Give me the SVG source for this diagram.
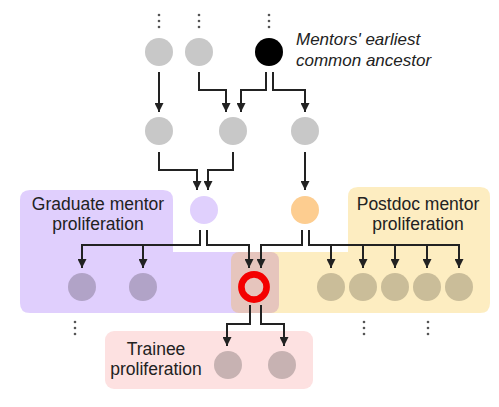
<svg xmlns="http://www.w3.org/2000/svg" width="499" height="407" viewBox="0 0 499 407">
<style>
.t{font-family:"Liberation Sans",Arial,sans-serif;font-size:17.5px;fill:#222;text-anchor:middle}
.ti{font-family:"Liberation Sans",Arial,sans-serif;font-size:17px;font-style:italic;fill:#222}
.c{stroke:#222;stroke-width:2;fill:none}
.g{fill:#c8c8c8}
.pp{fill:#b1a3c7}
.yy{fill:#cabd99}
.tr{fill:#c7b2b2}
.d{fill:#555}
</style>
<defs>
<marker id="ah" viewBox="0 0 10 10" refX="10" refY="5" markerWidth="9" markerHeight="9" markerUnits="userSpaceOnUse" orient="auto">
<path d="M0,0 L10,5 L0,10 Z" fill="#222"/>
</marker>
</defs>
<g id="regions">
<path id="graduate-region" d="M30 190 H163 Q173 190 173 200 V252 H240 V313 H30 Q20 313 20 303 V200 Q20 190 30 190 Z" fill="#e0cffd"/>
<path id="postdoc-region" d="M358 187 H480 Q490 187 490 197 V303 Q490 313 480 313 H270 V252 H348 V197 Q348 187 358 187 Z" fill="#fdedc1"/>
<rect id="overlap-region" x="231" y="252" width="48" height="61" rx="8" fill="#e6c5bd"/>
<rect id="trainee-region" x="105" y="331" width="208" height="58" rx="9" fill="#fde1e1"/>
</g>
<g id="dots">
<circle class="d" cx="159" cy="15" r="1.3"/><circle class="d" cx="159" cy="21" r="1.3"/><circle class="d" cx="159" cy="27" r="1.3"/>
<circle class="d" cx="199" cy="15" r="1.3"/><circle class="d" cx="199" cy="21" r="1.3"/><circle class="d" cx="199" cy="27" r="1.3"/>
<circle class="d" cx="269" cy="15" r="1.3"/><circle class="d" cx="269" cy="21" r="1.3"/><circle class="d" cx="269" cy="27" r="1.3"/>
<circle class="d" cx="75" cy="322" r="1.3"/><circle class="d" cx="75" cy="328" r="1.3"/><circle class="d" cx="75" cy="334" r="1.3"/>
<circle class="d" cx="364" cy="322" r="1.3"/><circle class="d" cx="364" cy="328" r="1.3"/><circle class="d" cx="364" cy="334" r="1.3"/>
<circle class="d" cx="428" cy="322" r="1.3"/><circle class="d" cx="428" cy="328" r="1.3"/><circle class="d" cx="428" cy="334" r="1.3"/>
</g>
<g id="connectors">
<path class="c" marker-end="url(#ah)" d="M159 72 V112"/>
<path class="c" marker-end="url(#ah)" d="M199 72 V90 H226 V112"/>
<path class="c" marker-end="url(#ah)" d="M266 72 V90 H241 V112"/>
<path class="c" marker-end="url(#ah)" d="M273 72 V90 H305 V112"/>
<path class="c" marker-end="url(#ah)" d="M159 152 V170 H197 V190"/>
<path class="c" marker-end="url(#ah)" d="M233 152 V170 H208 V190"/>
<path class="c" marker-end="url(#ah)" d="M305 152 V190"/>
<path class="c" marker-end="url(#ah)" d="M200 230 V245 H82 V268"/>
<path class="c" marker-end="url(#ah)" d="M143 245 V268"/>
<path class="c" marker-end="url(#ah)" d="M207 230 V245 H249 V268"/>
<path class="c" marker-end="url(#ah)" d="M302 230 V245 H261 V268"/>
<path class="c" marker-end="url(#ah)" d="M309 230 V245 H459 V268"/>
<path class="c" marker-end="url(#ah)" d="M331 245 V268"/>
<path class="c" marker-end="url(#ah)" d="M363 245 V268"/>
<path class="c" marker-end="url(#ah)" d="M395 245 V268"/>
<path class="c" marker-end="url(#ah)" d="M427 245 V268"/>
<path class="c" marker-end="url(#ah)" d="M250 305 V324 H227 V346"/>
<path class="c" marker-end="url(#ah)" d="M261 305 V324 H284 V346"/>
</g>
<g id="row1">
<circle id="n1a" class="g" cx="159" cy="52" r="14"/>
<circle id="n1b" class="g" cx="199" cy="52" r="14"/>
<circle id="ancestor" cx="269" cy="52" r="14" fill="#000"/>
</g>
<g id="row2">
<circle id="n2a" class="g" cx="159" cy="131" r="14"/>
<circle id="n2b" class="g" cx="233" cy="131" r="14"/>
<circle id="n2c" class="g" cx="305" cy="131" r="14"/>
</g>
<g id="graduate-mentor"><circle cx="204" cy="210" r="14" fill="#e0d0fd"/></g>
<g id="postdoc-mentor"><circle cx="305" cy="210" r="14" fill="#fdcd90"/></g>
<g id="graduate-peers">
<circle class="pp" cx="82" cy="287" r="14"/>
<circle class="pp" cx="143" cy="287" r="14"/>
</g>
<g id="focal"><circle cx="254" cy="287" r="12.6" fill="none" stroke="#f40000" stroke-width="6.6"/></g>
<g id="postdoc-peers">
<circle class="yy" cx="331" cy="287" r="14"/>
<circle class="yy" cx="363" cy="287" r="14"/>
<circle class="yy" cx="395" cy="287" r="14"/>
<circle class="yy" cx="427" cy="287" r="14"/>
<circle class="yy" cx="459" cy="287" r="14"/>
</g>
<g id="trainees">
<circle class="tr" cx="228" cy="365" r="14"/>
<circle class="tr" cx="282" cy="365" r="14"/>
</g>
<g id="labels">
<text class="ti" x="296" y="45">Mentors' earliest</text>
<text class="ti" x="296" y="66">common ancestor</text>
<text class="t" x="98" y="210">Graduate mentor</text>
<text class="t" x="98" y="230">proliferation</text>
<text class="t" x="418" y="210">Postdoc mentor</text>
<text class="t" x="418" y="230">proliferation</text>
<text class="t" x="156" y="355">Trainee</text>
<text class="t" x="156" y="375">proliferation</text>
</g>
</svg>
